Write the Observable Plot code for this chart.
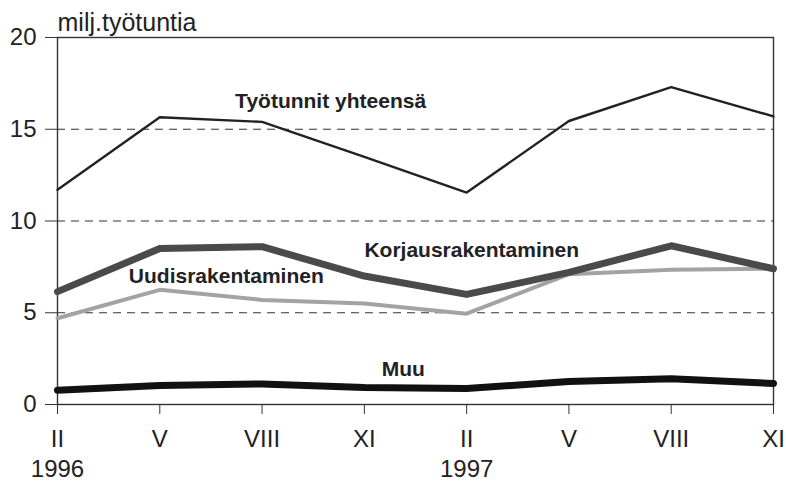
<!DOCTYPE html>
<html>
<head>
<meta charset="utf-8">
<script src="https://cdn.jsdelivr.net/npm/d3@7"></script>
<script src="https://cdn.jsdelivr.net/npm/@observablehq/plot@0.6"></script>
<style>
  html, body { margin: 0; padding: 0; background: #fff; }
  #chart svg { display: block; }
</style>
</head>
<body>
<div id="chart"></div>
<script>
// Data
const periods = ["II", "V", "VIII", "XI", "II", "V", "VIII", "XI"];
const years = ["1996", "", "", "", "1997", "", "", ""];
const yTicks = [0, 5, 10, 15, 20];
const gridValues = [5, 10, 15];
const total = [11.7, 15.65, 15.4, 13.5, 11.55, 15.45, 17.3, 15.7];
const korjaus = [6.15, 8.5, 8.6, 7.0, 6.0, 7.2, 8.65, 7.4];
const uudis = [4.7, 6.25, 5.7, 5.5, 4.95, 7.1, 7.35, 7.4];
const muu = [0.78, 1.03, 1.12, 0.92, 0.87, 1.25, 1.4, 1.15];
const unitLabel = "milj.työtuntia";
const seriesNames = ["Työtunnit yhteensä", "Korjausrakentaminen", "Uudisrakentaminen", "Muu"];

const idx = periods.map((_, i) => i);
const rows = (vals) => vals.map((v, i) => ({i, v}));

const font = "'Liberation Sans', Arial, Helvetica, sans-serif";

const chart = Plot.plot({
  width: 786,
  height: 483,
  marginTop: 37,
  marginBottom: 79,
  marginLeft: 57,
  marginRight: 13,
  style: {fontFamily: font, background: "#fff", color: "#222"},
  x: {type: "linear", domain: [0, 7]},
  y: {domain: [0, 20]},
  marks: [
    Plot.ruleY(gridValues, {stroke: "#333", strokeWidth: 1.1, strokeDasharray: "8,6"}),
    Plot.frame({stroke: "#333", strokeWidth: 1.4}),
    Plot.axisY({ticks: yTicks, tickSize: 12, tickPadding: 9, fontSize: 24, label: null, stroke: "#333"}),
    Plot.axisX({ticks: idx, tickFormat: (d) => periods[d], tickSize: 10, tickPadding: 15, fontSize: 24, label: null, stroke: "#333"}),
    Plot.axisX({ticks: idx, tickFormat: (d) => years[d], tickSize: 0, tickPadding: 55, fontSize: 24, label: null}),
    Plot.line(rows(uudis), {x: "i", y: "v", stroke: "#a3a3a3", strokeWidth: 4}),
    Plot.line(rows(korjaus), {x: "i", y: "v", stroke: "#4a4a4a", strokeWidth: 7}),
    Plot.line(rows(total), {x: "i", y: "v", stroke: "#222", strokeWidth: 2.4}),
    Plot.line(rows(muu), {x: "i", y: "v", stroke: "#111", strokeWidth: 7}),
    Plot.text([unitLabel], {frameAnchor: "top-left", dy: -24, dx: 0, textAnchor: "start", fontSize: 25, fill: "#222"}),
    Plot.text([
      {name: seriesNames[0], i: 2.67, v: 16.55},
      {name: seriesNames[1], i: 4.05, v: 8.4},
      {name: seriesNames[2], i: 1.65, v: 6.98},
      {name: seriesNames[3], i: 3.38, v: 1.9}
    ], {x: "i", y: "v", text: "name", fontSize: 21, fontWeight: "bold", fill: "#222"})
  ]
});
document.getElementById("chart").appendChild(chart);
</script>
</body>
</html>
